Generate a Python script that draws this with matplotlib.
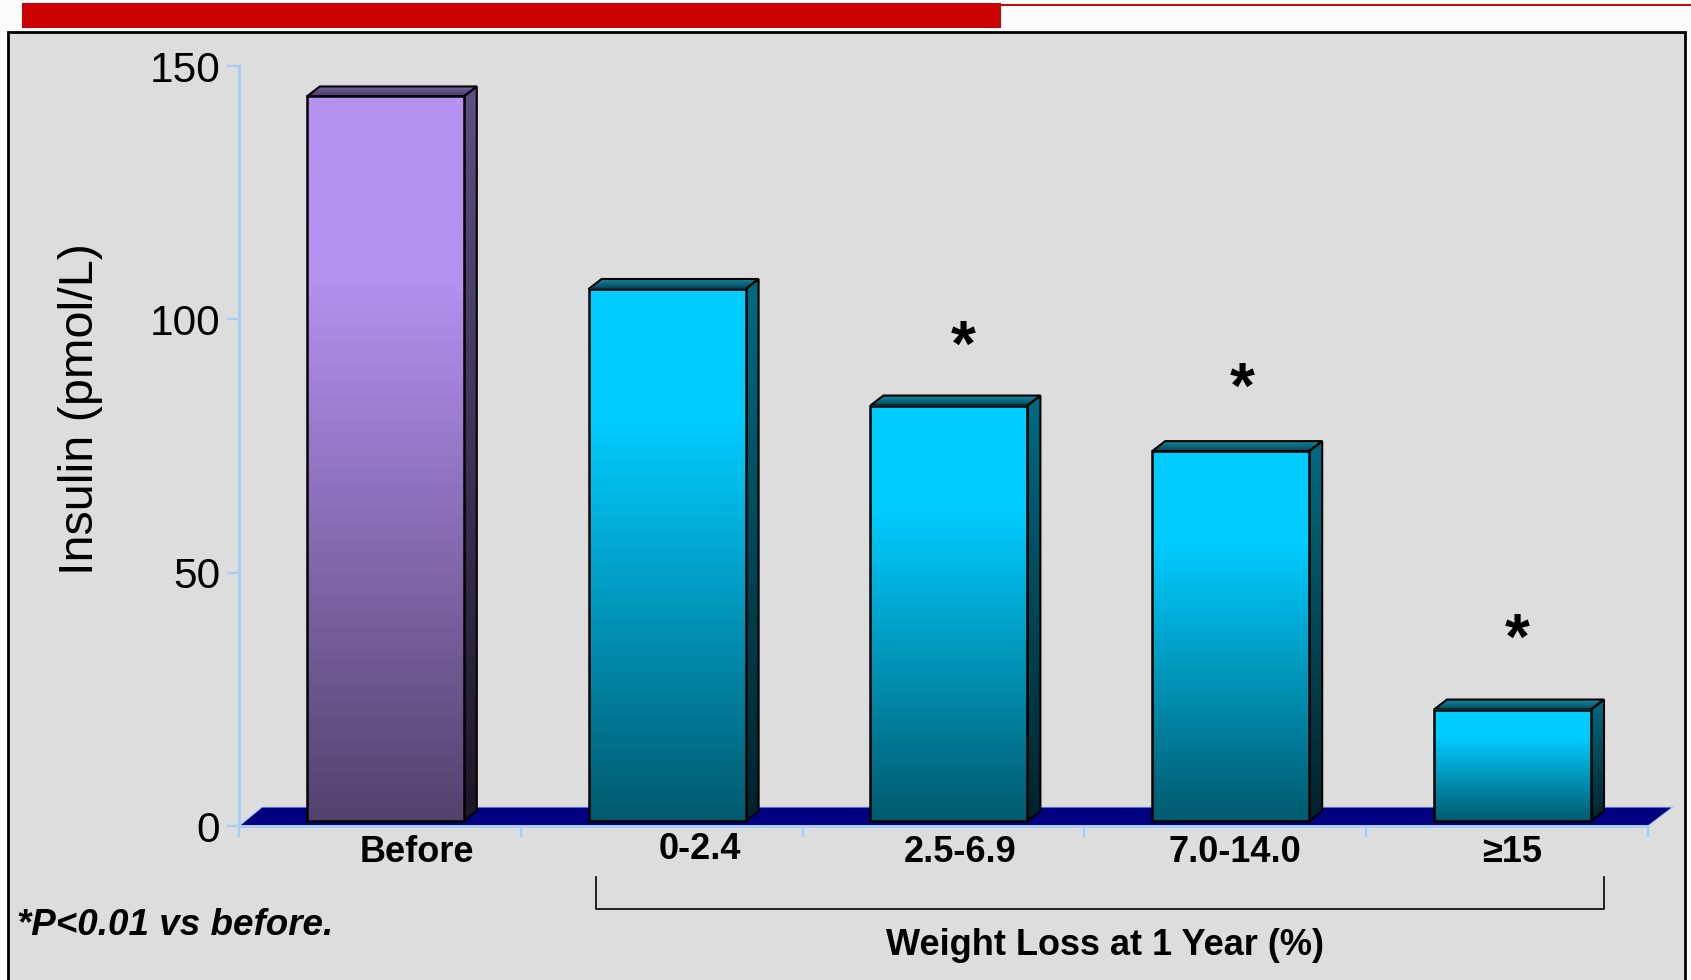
import numpy as np
import matplotlib
matplotlib.use("Agg")
import matplotlib.pyplot as plt
import matplotlib.transforms as mtransforms
from matplotlib.patches import Polygon, Rectangle
from matplotlib.lines import Line2D
from matplotlib.colors import to_rgb

plt.rcParams["font.family"] = ["Liberation Sans", "DejaVu Sans"]

# ---- data ----
categories = ["Before", "0-2.4", "2.5-6.9", "7.0-14.0", "≥15"]
insulin = [143, 105, 82, 73, 22]          # pmol/L
significant = [False, False, True, True, True]
y_ticks = [0, 50, 100, 150]

# label / marker nudges (pixels)
label_nudge = [(37, 0), (38, 3), (17, 0), (10, 0), (5, 0)]
star_nudge = [(0, 0), (0, 0), (20, 80), (17, 83), (10, 91)]

W, H, DPI = 1691, 980, 100
fig = plt.figure(figsize=(W / DPI, H / DPI), dpi=DPI, facecolor="#FCFCFC")


def fx(x):
    return x / W


def fy(y):
    return 1 - y / H


# slide panel and title bar
fig.patches.append(Rectangle((fx(8), fy(1000)), fx(1685) - fx(8), fy(32) - fy(1000),
                             transform=fig.transFigure, facecolor="#DDDDDD",
                             edgecolor="black", linewidth=2.0, zorder=-2))
fig.patches.append(Rectangle((fx(22), fy(28)), fx(1001) - fx(22), fy(3) - fy(28),
                             transform=fig.transFigure, facecolor="#CC0000",
                             edgecolor="none", zorder=-2))
fig.lines.append(Line2D([fx(1000), fx(1691)], [fy(5), fy(5)], transform=fig.transFigure,
                        color="#CC0000", linewidth=1.4, zorder=-2))

# plotting area
AX_L, AX_R, AX_T, AX_B = 239, 1648, 66, 826
ax = fig.add_axes([fx(AX_L), fy(AX_B), (AX_R - AX_L) / W, (AX_B - AX_T) / H])
ax.set_facecolor("none")
ax.set_zorder(1)
n = len(categories)
YMAX = 150
px_x = (AX_R - AX_L) / n
px_y = (AX_B - AX_T) / YMAX


def dx(p):
    return p / px_x


def dy(p):
    return p / px_y


AXIS_BLUE = "#A8CCF2"

# floor slab
floor = Polygon([(0, 0), (n, 0), (n + dx(25), dy(19)), (dx(23), dy(19))], closed=True,
                facecolor="#000080", edgecolor=AXIS_BLUE, linewidth=0.8,
                clip_on=False, zorder=1.5)
ax.add_patch(floor)


def gradient(x0, x1, y0, y1, c_top, c_bot, hold=0.25, clip=None, z=3):
    t = np.linspace(0, 1, 256)
    f = np.clip((t - hold) / (1 - hold), 0, 1)
    top = np.array(to_rgb(c_top))
    bot = np.array(to_rgb(c_bot))
    img = (top[None, :] * (1 - f[:, None]) + bot[None, :] * f[:, None])[:, None, :]
    im = ax.imshow(img, extent=[x0, x1, y0, y1], origin="upper", aspect="auto",
                   interpolation="bilinear", zorder=z)
    if clip is not None:
        im.set_clip_path(clip)
    return im


purple = dict(front=("#B591F0", "#53426D"), side=("#5E4E84", "#1B1725"),
              top=("#7A68AA", "#463866"))
teal = dict(front=("#00CCFF", "#005A6E"), side=("#006B82", "#00222C"),
            top=("#1688A0", "#004656"))

BAR_W = dx(157)
SHIFT_X, SHIFT_Y = dx(5.4), dy(5)
DEP_X, DEP_Y = dx(13), dy(10)

for i, v in enumerate(insulin):
    pal = purple if i == 0 else teal
    z = 3 + i * 0.1
    x0 = i + 0.5 - BAR_W / 2 + SHIFT_X
    x1 = x0 + BAR_W
    y0 = SHIFT_Y
    y1 = v + SHIFT_Y

    side = Polygon([(x1, y0), (x1 + DEP_X, y0 + DEP_Y), (x1 + DEP_X, y1 + DEP_Y), (x1, y1)],
                   closed=True, facecolor="none", edgecolor="black", linewidth=1.5,
                   zorder=z + 0.02)
    ax.add_patch(side)
    gradient(x1, x1 + DEP_X, y0, y1 + DEP_Y, *pal["side"], hold=0.0, clip=side, z=z)

    topf = Polygon([(x0, y1), (x1, y1), (x1 + DEP_X, y1 + DEP_Y), (x0 + DEP_X, y1 + DEP_Y)],
                   closed=True, facecolor="none", edgecolor="black", linewidth=1.5,
                   zorder=z + 0.02)
    ax.add_patch(topf)
    gradient(x0, x1 + DEP_X, y1, y1 + DEP_Y, *pal["top"], hold=0.0, clip=topf, z=z)

    gradient(x0, x1, y0, y1, *pal["front"], hold=0.25, z=z + 0.03)
    ax.add_patch(Rectangle((x0, y0), BAR_W, v, facecolor="none", edgecolor="black",
                           linewidth=1.8, clip_on=False, zorder=z + 0.04))

    # category label
    nx, ny = label_nudge[i]
    tr = mtransforms.offset_copy(ax.transData, fig=fig, x=nx, y=-36 + ny, units="dots")
    ax.text(i + 0.5, 0, categories[i], transform=tr, ha="center", va="baseline",
            fontsize=26, fontweight="bold", color="black", zorder=6)

    # significance marker
    if significant[i]:
        sx, sy = star_nudge[i]
        tr = mtransforms.offset_copy(ax.transData, fig=fig, x=sx, y=sy - 35, units="dots")
        ax.text(i + 0.5, v, "*", transform=tr, ha="center", va="baseline",
                fontsize=46, fontweight="bold", color="black", zorder=6)

ax.set_xlim(0, n)
ax.set_ylim(0, YMAX)
ax.set_xticks(range(n + 1))
ax.set_xticklabels([])
ax.set_yticks(y_ticks)
ax.set_yticklabels([str(t) for t in y_ticks])
for s in ("top", "right"):
    ax.spines[s].set_visible(False)
for s in ("left", "bottom"):
    ax.spines[s].set_color(AXIS_BLUE)
    ax.spines[s].set_linewidth(2.2)
    ax.spines[s].set_zorder(2.5)
ax.tick_params(axis="x", direction="out", length=8, width=1.7, color=AXIS_BLUE)
ax.tick_params(axis="y", direction="out", length=8.6, width=1.7, color=AXIS_BLUE,
               pad=5, labelsize=30.5, labelcolor="black")

# axis titles and notes
fig.text(fx(81), fy(409), "Insulin (pmol/L)", rotation=90, ha="center", va="center",
         fontsize=35, color="black")
fig.text(fx(1105), fy(955), "Weight Loss at 1 Year (%)", ha="center", va="baseline",
         fontsize=26, fontweight="bold", color="black")
fig.text(fx(17), fy(935), "*P<0.01 vs before.", ha="left", va="baseline",
         fontsize=26.5, fontweight="bold", fontstyle="italic", color="black")

# bracket grouping the weight-loss categories
fig.lines.append(Line2D([fx(596), fx(596), fx(1604), fx(1604)],
                        [fy(877), fy(909), fy(909), fy(877)],
                        transform=fig.transFigure, color="black", linewidth=1.2))

fig.savefig("out.png", dpi=DPI, facecolor=fig.get_facecolor())
